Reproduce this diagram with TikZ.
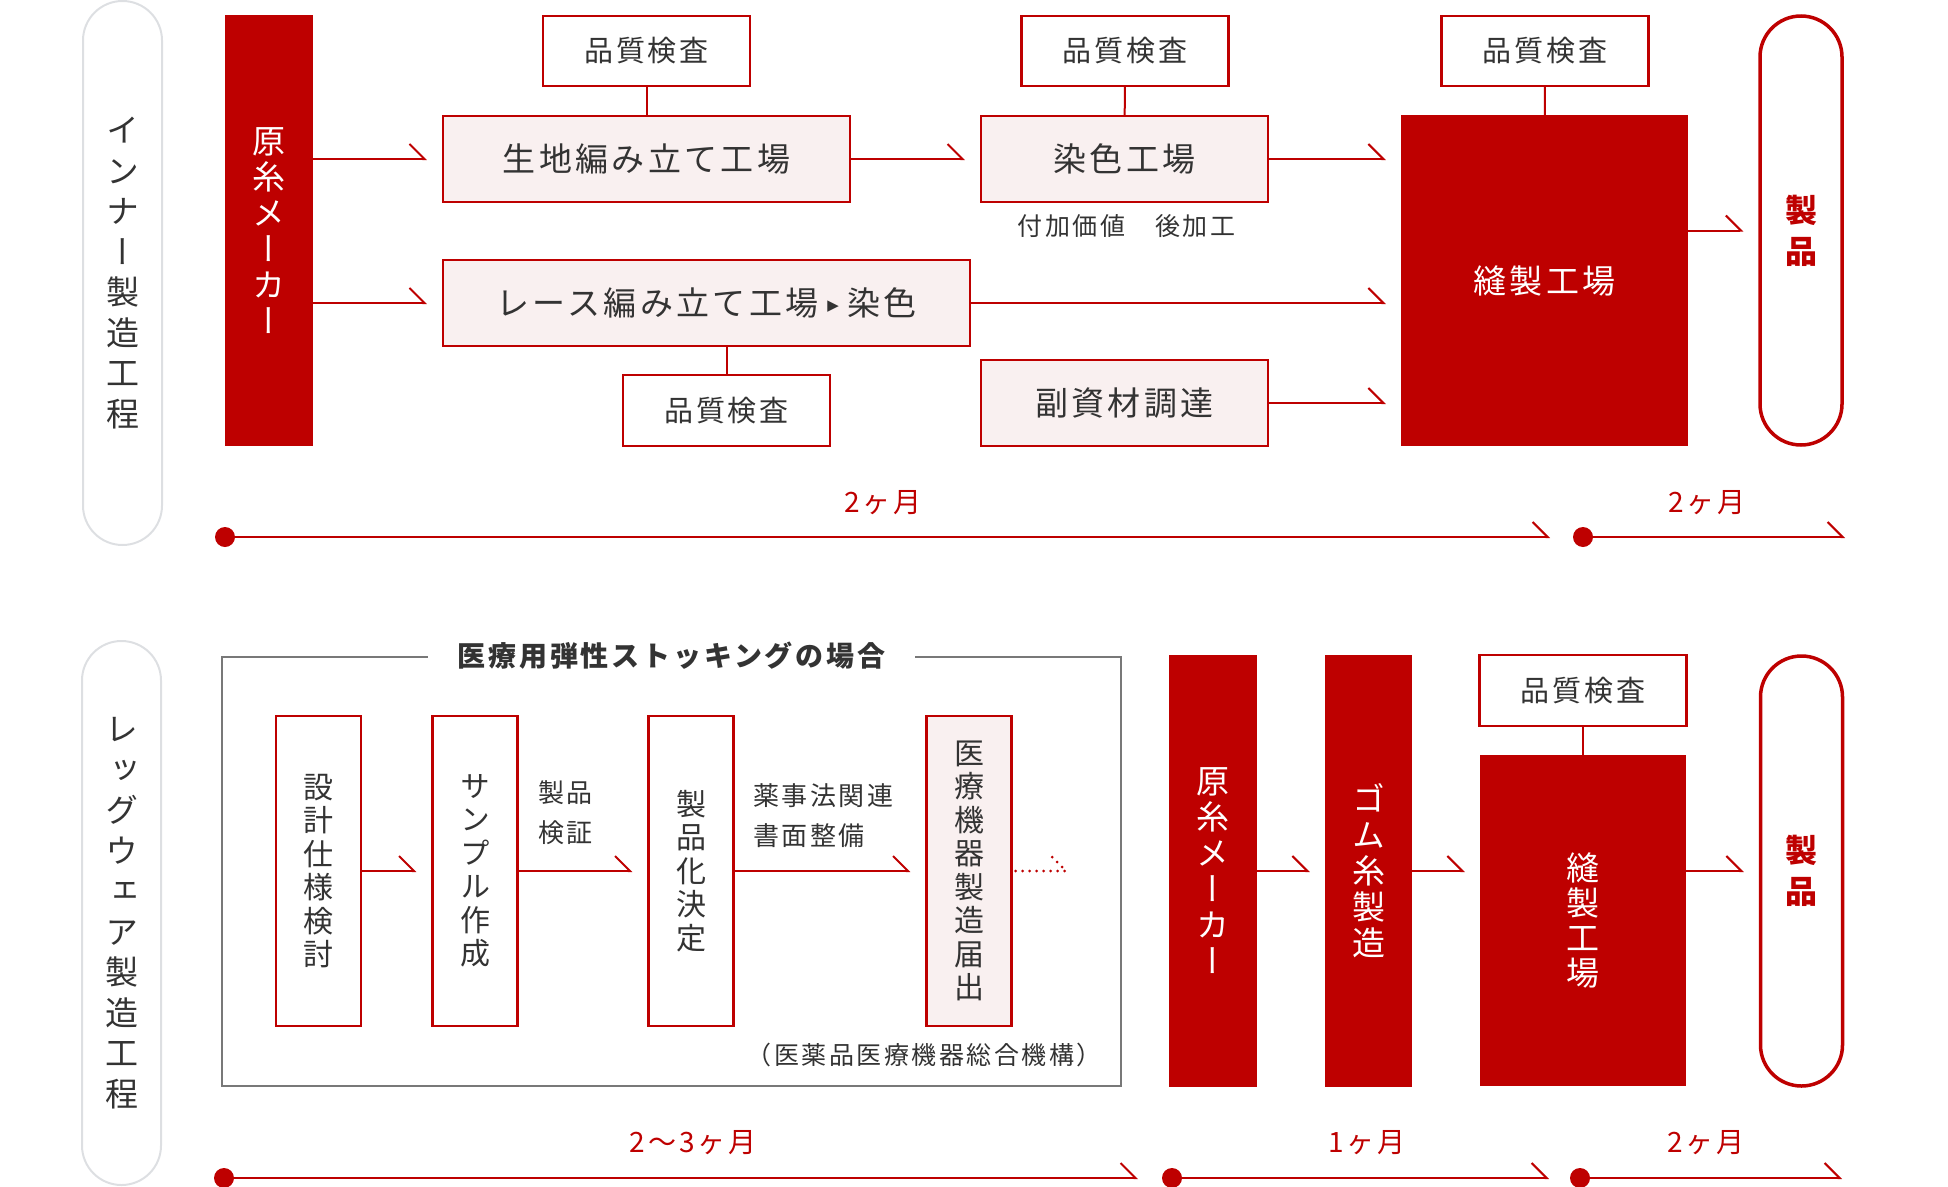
\documentclass[tikz,border=0pt]{standalone}
\usepackage{fontspec}
\setmainfont{Noto Sans CJK JP}[LetterSpace=10]
\newfontfamily\tatefont{Noto Sans CJK JP}[RawFeature=+vert]
\newfontfamily\symfont{DejaVu Sans}
\usetikzlibrary{arrows.meta}
\usetikzlibrary{positioning}

\definecolor{hred}{RGB}{190,0,0}
\definecolor{hpink}{RGB}{249,240,240}
\definecolor{htext}{RGB}{51,51,51}
\definecolor{hgray}{RGB}{120,120,120}
\definecolor{hpill}{RGB}{221,223,226}

\begin{document}
\begin{tikzpicture}[x=1pt, y=-1pt]
\tikzset{
   box/.style = {rectangle, draw=hred, line width=2.2pt, fill=hpink, text=htext, inner sep=0pt, font=\fontsize{33}{40}\selectfont},
   qcbox/.style = {box, fill=white, minimum width=207pt, minimum height=70pt, font=\fontsize{29}{35}\selectfont},
   redbox/.style = {rectangle, fill=hred, text=white, inner sep=0pt, align=center, font=\fontsize{33}{36}\tatefont},
   tatebox/.style = {box, fill=white, minimum width=85pt, minimum height=310pt, align=center, font=\fontsize{30}{33.5}\tatefont},
   sidepill/.style = {rectangle, rounded corners=39.5pt, draw=hpill, line width=2pt, minimum width=79pt, minimum height=544pt, inner sep=0pt, align=center, text=htext, font=\fontsize{33}{40.5}\tatefont},
   endpill/.style = {rectangle, rounded corners=41pt, draw=hred, line width=3.5pt, minimum width=82pt, minimum height=429pt, inner sep=0pt, align=center, text=hred, font=\fontsize{32}{41}\tatefont\bfseries},
   casetitle/.style = {fill=white, text=htext, inner xsep=30pt, inner ysep=4pt, font=\fontsize{28}{34}\selectfont\bfseries},
   flow/.style = {draw=hred, line width=2pt, -{Straight Barb[left, length=15pt, width=30pt]}},
   into/.style = {flow, shorten >=15pt},
   link/.style = {draw=hred, line width=2pt},
   dots/.style = {draw=hred, line width=3pt, line cap=round, dash pattern=on 0pt off 7pt},
   notetext/.style = {text=htext, inner sep=0pt, align=left, font=\fontsize{26}{40}\selectfont},
   spanlabel/.style = {text=hred, inner sep=0pt, font=\fontsize{28}{34}\selectfont},
   daydot/.style = {circle, fill=hred, minimum size=20pt, inner sep=0pt}
}
\useasboundingbox (0,0) rectangle (1948,1186);

% inner wear
\node[sidepill] (innerlabel) at (122.5,273) {イ\\ン\\ナ\\ー\\製\\造\\工\\程};
\node[redbox, minimum width=88pt, minimum height=431pt] (yarnA) at (269,230.5) {原\\糸\\メ\\ー\\カ\\ー};
\node[box, minimum width=407pt, minimum height=86pt] (knit) at (646.5,159) {生地編み立て工場};
\node[qcbox] (qcknit) at (646.5,51) {品質検査};
\node[box, minimum width=527pt, minimum height=86pt] (lace) at (706.5,303) {レース編み立て工場\hspace{9pt}\raisebox{5pt}{\symfont\fontsize{15}{15}\selectfont ▶}\hspace{8pt}染色};
\node[qcbox, minimum height=71pt] (qclace) at (726.5,410.5) {品質検査};
\node[box, minimum width=287pt, minimum height=86pt] (dye) at (1124.5,159) {染色工場};
\node[qcbox] (qcdye) at (1125,51) {品質検査};
\node[notetext, font=\fontsize{25}{30}\selectfont] (dyenote) at (1126.5,226) {付加価値　後加工};
\node[box, minimum width=287pt, minimum height=86pt] (parts) at (1124.5,403) {副資材調達};
\node[redbox, minimum width=287pt, minimum height=331pt, font=\fontsize{33}{40}\selectfont] (sewA) at (1544.5,280.5) {縫製工場};
\node[qcbox] (qcsew) at (1545,51) {品質検査};
\node[endpill] (goodsA) at (1801,230.5) {製\\品};

\draw[link] (qcknit) -- (knit);
\draw[link] (qclace.north) -- (qclace.north |- lace.south);
\draw[link] (qcdye) -- (dye);
\draw[link] (qcsew) -- (sewA);
\draw[into] (yarnA.east |- knit.west) -- (knit.west);
\draw[into] (yarnA.east |- lace.west) -- (lace.west);
\draw[into] (knit) -- (dye);
\draw[into] (dye.east) -- (dye.east -| sewA.west);
\draw[into] (lace.east) -- (lace.east -| sewA.west);
\draw[into] (parts.east) -- (parts.east -| sewA.west);
\draw[into] (sewA.east |- goodsA.west) -- (goodsA.west);

% inner wear schedule
\node[daydot] (startA) at (225,537) {};
\coordinate (endA) at (1550,537);
\draw[flow] (startA.center) -- (endA);
\node[spanlabel] (monthsA) at (883,503) {2ヶ月};
\node[daydot] (startB) at (1583,537) {};
\coordinate (endB) at (1845,537);
\draw[flow] (startB.center) -- (endB);
\node[spanlabel] (monthsB) at (1707,503) {2ヶ月};

% leg wear
\node[sidepill] (leglabel) at (121.5,913) {レ\\ッ\\グ\\ウ\\ェ\\ア\\製\\造\\工\\程};
\node[draw=hgray, line width=2pt, minimum width=899pt, minimum height=429pt] (case) at (671.5,871.5) {};
\node[casetitle] (casename) at (case.north) {医療用弾性ストッキングの場合};
\node[tatebox] (spec) at (318.5,871) {設\\計\\仕\\様\\検\\討};
\node[tatebox] (sample) at (475,871) {サ\\ン\\プ\\ル\\作\\成};
\node[tatebox] (decide) at (691,871) {製\\品\\化\\決\\定};
\node[tatebox, fill=hpink] (notify) at (969,871) {医\\療\\機\\器\\製\\造\\届\\出};
\node[notetext, anchor=west] (verify) at (538,813) {製品\\検証};
\node[notetext, anchor=west] (papers) at (753,816) {薬事法関連\\書面整備};
\node[notetext, font=\fontsize{25}{30}\selectfont] (agency) at (924,1055) {（医薬品医療機器総合機構）};
\coordinate (pending) at (1066,871);

\draw[into] (spec) -- (sample);
\draw[into] (sample) -- (decide);
\draw[into] (decide) -- (notify);
\draw[dots, shorten <=3pt] (notify.east) -- (pending) -- ++(-17,-17);

\node[redbox, minimum width=88pt, minimum height=432pt] (yarnB) at (1213,871) {原\\糸\\メ\\ー\\カ\\ー};
\node[redbox, minimum width=87pt, minimum height=432pt] (rubber) at (1368.5,871) {ゴ\\ム\\糸\\製\\造};
\node[qcbox, minimum height=71pt] (qcsewB) at (1583,690.5) {品質検査};
\node[redbox, minimum width=206pt, minimum height=331pt, font=\fontsize{33}{35}\tatefont] (sewB) at (1583,920.5) {縫\\製\\工\\場};
\node[endpill, minimum height=430pt] (goodsB) at (1801.5,871) {製\\品};

\draw[link] (qcsewB) -- (sewB);
\draw[into] (yarnB) -- (rubber);
\draw[into] (rubber.east) -- (rubber.east -| sewB.west);
\draw[into] (sewB.east |- goodsB.west) -- (goodsB.west);

% leg wear schedule
\node[daydot] (startC) at (224,1178) {};
\coordinate (endC) at (1138,1178);
\draw[flow] (startC.center) -- (endC);
\node[spanlabel] (monthsC) at (693,1143) {2〜3ヶ月};
\node[daydot] (startD) at (1172,1178) {};
\coordinate (endD) at (1549,1178);
\draw[flow] (startD.center) -- (endD);
\node[spanlabel] (monthsD) at (1367,1143) {1ヶ月};
\node[daydot] (startE) at (1580,1178) {};
\coordinate (endE) at (1842,1178);
\draw[flow] (startE.center) -- (endE);
\node[spanlabel] (monthsE) at (1706,1143) {2ヶ月};

\end{tikzpicture}
\end{document}
